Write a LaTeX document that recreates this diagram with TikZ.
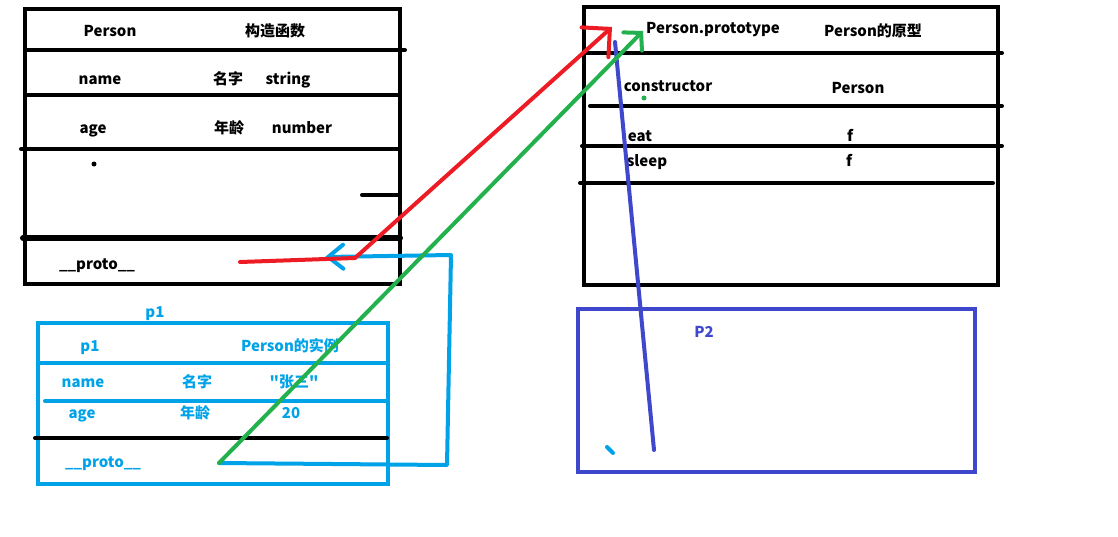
\documentclass[tikz,border=0pt]{standalone}
\usepackage{fontspec}
\setmainfont{Noto Sans CJK SC}[Ligatures=TeXOff]
\usepackage{tikz}
\usetikzlibrary{arrows.meta}
\definecolor{paintred}{HTML}{ED1C24}
\definecolor{paintgreen}{HTML}{22B14C}
\definecolor{paintcyan}{HTML}{00A2E8}
\definecolor{paintindigo}{HTML}{3F48CC}
\tikzstyle{txt} = [font=\fontsize{15}{18}\selectfont\bfseries, inner sep=0pt, anchor=base]
\tikzstyle{bluetxt} = [txt, text=paintcyan]
\tikzstyle{frame} = [draw, line width=4pt]
\tikzstyle{rule} = [draw, line width=4pt, line cap=round]
\tikzstyle{brush} = [draw, line width=4pt, line cap=round, line join=round]
\tikzstyle{line} = [brush, -{Straight Barb[length=20pt, width=40pt, line cap=round]}]
\tikzstyle{smallline} = [brush, -{Straight Barb[length=12pt, width=26pt, line cap=round]}]

\begin{document}
\begin{tikzpicture}[x=1pt, y=-1pt]
    \useasboundingbox (0,0) rectangle (1118,536);
    % Person box
    \draw [frame] (25,9) rectangle (400,284);
    \draw [rule] (25,50) -- (405,50);
    \draw [rule] (25,95) -- (400,95);
    \draw [rule] (21,149) -- (400,149);
    \draw [rule] (362,195) -- (400,195);
    \draw [rule, line width=6pt] (23,238) -- (400,238);
    \fill (94,164) circle (2.5pt);
    % Person.prototype box
    \draw [frame] (584,7) rectangle (998,285);
    \draw [rule] (584,53) -- (1002,53);
    \draw [rule] (590,106) -- (1002,106);
    \draw [rule] (582,146) -- (1002,146);
    \draw [rule] (580,183) -- (993,183);
    \fill [paintgreen] (644,98) circle (2.5pt);
    % p1 box
    \draw [frame, paintcyan] (38,323) rectangle (388,484);
    \draw [rule, paintcyan] (38,363) -- (388,363);
    \draw [rule, paintcyan] (45,401) -- (386,401);
    \draw [rule] (35,438) -- (387,438);
    % P2 box
    \draw [frame, paintindigo] (578,309) rectangle (975,472);
    \draw [rule, paintcyan] (607,447) -- (613,453);

    % Place nodes
    \node [txt] (person) at (110,36) {Person};
    \node [txt] (ctorCn) at (275,36) {构造函数};
    \node [txt] (name) at (100,84) {name};
    \node [txt] (nameCn) at (228,84) {名字};
    \node [txt] (nameType) at (288,84) {string};
    \node [txt] (age) at (93,133) {age};
    \node [txt] (ageCn) at (229,133) {年龄};
    \node [txt] (ageType) at (302,133) {number};
    \node [txt] (proto) at (97,269) {\_\_proto\_\_};

    \node [txt] (protoName) at (713,33) {Person.prototype};
    \node [txt] (protoCn) at (873,36) {Person的原型};
    \node [txt] (constructor) at (668,91) {constructor};
    \node [txt] (constructorVal) at (858,93) {Person};
    \node [txt] (eat) at (640,141) {eat};
    \node [txt] (eatVal) at (850,141) {f};
    \node [txt] (sleep) at (647,166) {sleep};
    \node [txt] (sleepVal) at (849,166) {f};

    \node [bluetxt] (p1title) at (155,317) {p1};
    \node [bluetxt] (p1) at (90,351) {p1};
    \node [bluetxt] (p1Cn) at (290,351) {Person的实例};
    \node [bluetxt] (p1name) at (83,387) {name};
    \node [bluetxt] (p1nameCn) at (197,387) {名字};
    \node [bluetxt] (p1nameVal) at (294,387) {"张三"};
    \node [bluetxt] (p1age) at (82,418) {age};
    \node [bluetxt] (p1ageCn) at (195,418) {年龄};
    \node [bluetxt] (p1ageVal) at (291,418) {20};
    \node [bluetxt] (p1proto) at (103,467) {\_\_proto\_\_};

    \node [txt, text=paintindigo] (p2) at (704,337) {P2};

    % Draw edges
    \coordinate (p1link) at (219,463);
    \coordinate (p1corner) at (447,465);
    \coordinate (topCorner) at (451,255);
    \coordinate (protoLink) at (325,257);
    \coordinate (redStart) at (240,262);
    \coordinate (redBend) at (355,258);
    \coordinate (redTip) at (612,27);
    \coordinate (greenTip) at (643,31);
    \coordinate (p2link) at (654,450);
    \coordinate (p2top) at (615,42);
    \path [brush, paintcyan, -{Straight Barb[length=15pt, width=24pt, line cap=round]}]
        (p1link) -- (p1corner) -- (topCorner) -- (protoLink);
    \path [brush, paintindigo] (p2link) -- (p2top);
    \path [line, paintred] (redStart) -- (redBend) -- (redTip);
    \path [smallline, paintgreen] (p1link) -- (greenTip);

\end{tikzpicture}
\end{document}
